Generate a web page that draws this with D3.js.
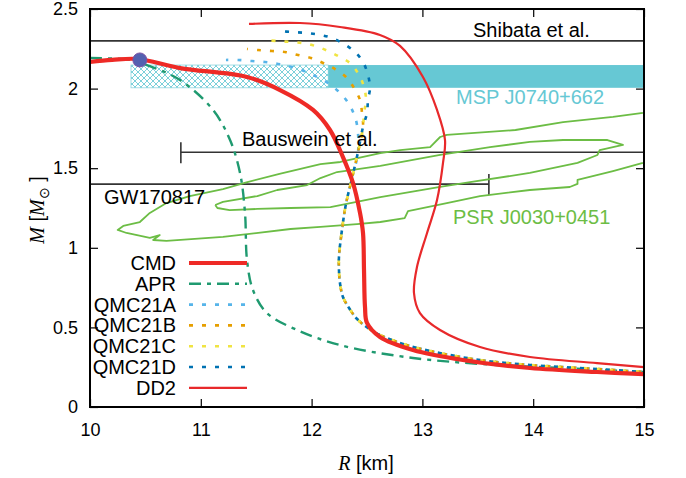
<!DOCTYPE html>
<html>
<head>
<meta charset="utf-8">
<script src="https://d3js.org/d3.v7.min.js"></script>
<style>
  body { margin: 0; background: #fff; }
  svg text { font-family: "Liberation Sans", Arial, sans-serif; }
</style>
</head>
<body>
<svg id="chart" width="686" height="478"></svg>
<script>
// tick values
const xTicks = [10, 11, 12, 13, 14, 15];
const yTicks = [0, 0.5, 1, 1.5, 2, 2.5];

// mass-radius curves [R km, M Msun]
const cmd = [[10.0,2.167],[10.2,2.18],[10.433,2.186],[10.812,2.129],[11.417,2.073],[11.715,1.991],[12.013,1.866],
  [12.166,1.74],[12.283,1.57],[12.374,1.407],[12.437,1.219],[12.464,1.093],[12.473,0.861],[12.482,0.628],
  [12.5,0.528],[12.617,0.44],[12.915,0.358],[13.366,0.295],[13.971,0.245],[14.576,0.22],[15.0,0.207]];
const dd2 = [[11.435,2.406],[11.895,2.412],[12.256,2.387],[12.617,2.337],[12.798,2.268],[13.005,2.073],
  [13.132,1.866],[13.204,1.677],[13.186,1.533],[13.132,1.3],[13.042,1.093],[12.951,0.879],[12.924,0.716],
  [12.978,0.59],[13.159,0.484],[13.52,0.377],[13.971,0.314],[14.576,0.276],[15.0,0.251]];
const apr = [[10.0,2.192],[10.361,2.18],[10.514,2.148],[10.812,2.054],[11.11,1.866],[11.264,1.677],
  [11.354,1.47],[11.399,1.219],[11.417,0.923],[11.471,0.735],[11.597,0.59],[11.868,0.484],[12.256,0.389],
  [12.915,0.308],[13.673,0.264],[14.269,0.245],[15.0,0.22]];
const qmcTail = [[12.464,1.759],[12.419,1.602],[12.365,1.438],[12.31,1.275],[12.274,1.112],[12.247,0.942],
  [12.247,0.861],[12.256,0.779],[12.283,0.691],[12.338,0.622],[12.41,0.553],[12.509,0.496],[12.617,0.452],
  [12.726,0.421],[12.825,0.396],[13.069,0.352],[13.52,0.295],[13.971,0.264],[14.576,0.239],[15.0,0.22]];
const qmcAHead = [[11.227,2.18],[11.336,2.18],[11.462,2.173],[11.579,2.167],[11.697,2.155],[11.823,2.136],
  [11.931,2.111],[12.049,2.073],[12.148,2.035],[12.238,1.985],[12.319,1.922],[12.374,1.853],[12.41,1.771]];
const qmcBHead = [[11.417,2.249],[11.516,2.242],[11.643,2.236],[11.76,2.23],[11.877,2.211],[11.995,2.192],
  [12.103,2.161],[12.211,2.123],[12.31,2.073],[12.383,2.004],[12.437,1.928],[12.455,1.847]];
const qmcCHead = [[11.561,2.305],[11.688,2.299],[11.805,2.293],[11.922,2.286],[12.031,2.268],[12.148,2.236],
  [12.256,2.198],[12.356,2.155],[12.428,2.085],[12.473,2.01],[12.491,1.928],[12.473,1.847]];
const qmcDHead = [[11.697,2.362],[11.832,2.355],[11.958,2.349],[12.076,2.337],[12.184,2.318],[12.292,2.28],
  [12.392,2.23],[12.464,2.167],[12.509,2.085],[12.527,2.004],[12.509,1.928],[12.5,1.847]];

// PSR J0030+0451 contours
const psrOuter = [[14.99,1.847],[14.72,1.822],[14.27,1.79],[13.84,1.74],[13.22,1.709],[13.16,1.696],[13.07,1.633],
  [12.8,1.614],[12.62,1.595],[12.26,1.539],[12.08,1.526],[11.71,1.464],[11.42,1.413],[11.2,1.369],[10.9,1.325],
  [10.69,1.281],[10.54,1.219],[10.45,1.162],[10.3,1.137],[10.25,1.112],[10.33,1.093],[10.54,1.062],[10.63,1.08],
  [10.57,1.049],[10.69,1.043],[11.2,1.068],[11.81,1.118],[12.08,1.131],[12.41,1.149],[12.62,1.162],[12.84,1.187],
  [12.87,1.231],[13.22,1.281],[13.52,1.325],[13.97,1.363],[14.33,1.382],[14.4,1.401],[14.4,1.426],[14.72,1.482],
  [14.99,1.533]];
const psrInner = [[11.13,1.269],[11.2,1.288],[11.51,1.325],[11.69,1.363],[11.96,1.394],[12.08,1.438],[12.23,1.476],
  [12.62,1.514],[13.16,1.583],[13.61,1.633],[13.97,1.665],[14.27,1.677],[14.67,1.677],[14.81,1.646],[14.6,1.614],
  [14.58,1.583],[14.4,1.533],[13.97,1.47],[13.43,1.413],[13.16,1.382],[12.62,1.319],[12.17,1.256],[11.81,1.25],
  [11.51,1.244],[11.26,1.237],[11.15,1.25],[11.13,1.269]];

// observational constraints
const mspMass = [2.005, 2.148];
const mspHatchR = [10.37, 12.15];
const shibataM = 2.3;
const bausweinM = 1.6, bausweinR = 10.82;
const gwM = 1.4, gwR = 13.6;
const maxPoint = [10.45, 2.18];

const legendNames = ["CMD", "APR", "QMC21A", "QMC21B", "QMC21C", "QMC21D", "DD2"];

const svg = d3.select('#chart');
const margin = { top: 9, right: 42, bottom: 71, left: 90 };
const width = +svg.attr('width') - margin.left - margin.right;
const height = +svg.attr('height') - margin.top - margin.bottom;

const x = d3.scaleLinear().domain([10, 15]).range([margin.left, margin.left + width]);
const y = d3.scaleLinear().domain([0, 2.5]).range([margin.top + height, margin.top]);

const defs = svg.append('defs');
defs.append('clipPath').attr('id', 'plotclip')
  .append('rect').attr('x', x(10)).attr('y', y(2.5)).attr('width', width).attr('height', height);
const pat = defs.append('pattern').attr('id', 'hatch').attr('patternUnits', 'userSpaceOnUse')
  .attr('width', 6).attr('height', 6);
pat.append('path').attr('d', 'M0,0L6,6M6,0L0,6M-1,5L1,7M5,-1L7,1M-1,1L1,-1M5,7L7,5')
  .attr('stroke', '#6ccbd6').attr('stroke-width', 0.9).attr('fill', 'none');

const plot = svg.append('g').attr('clip-path', 'url(#plotclip)');

// MSP band
plot.append('rect')
  .attr('x', x(mspHatchR[0])).attr('y', y(mspMass[1]))
  .attr('width', x(mspHatchR[1]) - x(mspHatchR[0])).attr('height', y(mspMass[0]) - y(mspMass[1]))
  .attr('fill', 'url(#hatch)').attr('stroke', '#8fd6df').attr('stroke-width', 0.8);
plot.append('rect')
  .attr('x', x(mspHatchR[1])).attr('y', y(mspMass[1]))
  .attr('width', x(15) - x(mspHatchR[1])).attr('height', y(mspMass[0]) - y(mspMass[1]))
  .attr('fill', '#66c8d4');

// reference lines
const refColor = '#333';
plot.append('line').attr('x1', x(10)).attr('x2', x(15)).attr('y1', y(shibataM)).attr('y2', y(shibataM))
  .attr('stroke', refColor).attr('stroke-width', 1.6);
plot.append('line').attr('x1', x(bausweinR)).attr('x2', x(15)).attr('y1', y(bausweinM)).attr('y2', y(bausweinM))
  .attr('stroke', refColor).attr('stroke-width', 1.6);
plot.append('line').attr('x1', x(bausweinR)).attr('x2', x(bausweinR)).attr('y1', y(bausweinM) - 10).attr('y2', y(bausweinM) + 11)
  .attr('stroke', refColor).attr('stroke-width', 1.6);
plot.append('line').attr('x1', x(10)).attr('x2', x(gwR)).attr('y1', y(gwM)).attr('y2', y(gwM))
  .attr('stroke', refColor).attr('stroke-width', 1.6);
plot.append('line').attr('x1', x(gwR)).attr('x2', x(gwR)).attr('y1', y(gwM) - 10).attr('y2', y(gwM) + 11)
  .attr('stroke', refColor).attr('stroke-width', 1.6);

// PSR contours
const linePlain = d3.line().x(d => x(d[0])).y(d => y(d[1]));
const lineSmooth = d3.line().x(d => x(d[0])).y(d => y(d[1])).curve(d3.curveCatmullRom.alpha(0.5));
const green = '#6cbd45';
[psrOuter, psrInner].forEach(c => {
  plot.append('path').attr('d', linePlain(c)).attr('fill', 'none')
    .attr('stroke', green).attr('stroke-width', 1.8).attr('stroke-linejoin', 'round');
});

// EOS curves
const series = [
  { name: 'APR', data: apr, color: '#1f9a70', w: 2.4, dash: '12,6,4,6' },
  { name: 'QMC21A', data: qmcAHead.concat(qmcTail.slice(1)), color: '#56b4e9', w: 2.6, dash: '4,9' },
  { name: 'QMC21B', data: qmcBHead.concat(qmcTail), color: '#e69f00', w: 2.6, dash: '4,9' },
  { name: 'QMC21C', data: qmcCHead.concat(qmcTail), color: '#f0e442', w: 2.6, dash: '4,9' },
  { name: 'QMC21D', data: qmcDHead.concat(qmcTail), color: '#0072b2', w: 2.6, dash: '4,9' },
  { name: 'DD2', data: dd2, color: '#e8292b', w: 2.2, dash: null },
  { name: 'CMD', data: cmd, color: '#ee2a26', w: 4.2, dash: null }
];
series.forEach((s, i) => {
  const p = plot.append('path').attr('d', lineSmooth(s.data)).attr('fill', 'none')
    .attr('stroke', s.color).attr('stroke-width', s.w);
  if (s.dash) p.attr('stroke-dasharray', s.dash).attr('stroke-dashoffset', s.name.startsWith('QMC') ? i * 1.5 : 0);
});

// maximum mass point
plot.append('circle').attr('cx', x(maxPoint[0])).attr('cy', y(maxPoint[1])).attr('r', 7)
  .attr('fill', '#5361b0').attr('stroke', '#7b52a6').attr('stroke-width', 1);

// annotations
const ann = svg.append('g').style('font-size', '20px');
ann.append('text').attr('x', 473).attr('y', 37).text('Shibata et al.');
ann.append('text').attr('x', 456).attr('y', 104).attr('fill', '#66c8d4').text('MSP J0740+662');
ann.append('text').attr('x', 242).attr('y', 146).text('Bauswein et al.');
ann.append('text').attr('x', 104).attr('y', 204).text('GW170817');
ann.append('text').attr('x', 453).attr('y', 224).attr('fill', green).text('PSR J0030+0451');

// legend
const legend = svg.append('g').style('font-size', '20px');
legendNames.forEach((n, i) => {
  const s = series.find(d => d.name === n);
  const ly = 263 + i * 20.8;
  legend.append('text').attr('x', 176).attr('y', ly).attr('dy', '0.35em').attr('text-anchor', 'end').text(n);
  const l = legend.append('line').attr('x1', 189).attr('x2', 247).attr('y1', ly).attr('y2', ly)
    .attr('stroke', s.color).attr('stroke-width', s.w);
  if (s.dash) l.attr('stroke-dasharray', s.dash);
});

// axes with inward ticks on all sides
const tickLen = 8;
const fmt = d => String(d);
svg.append('g').attr('transform', `translate(0,${y(0)})`)
  .call(d3.axisBottom(x).tickValues(xTicks).tickFormat(fmt).tickSizeInner(-tickLen).tickSizeOuter(0).tickPadding(16))
  .call(g => g.select('.domain').remove());
svg.append('g').attr('transform', `translate(0,${y(2.5)})`)
  .call(d3.axisTop(x).tickValues(xTicks).tickSizeInner(-tickLen).tickSizeOuter(0).tickFormat(''))
  .call(g => g.select('.domain').remove());
svg.append('g').attr('transform', `translate(${x(10)},0)`)
  .call(d3.axisLeft(y).tickValues(yTicks).tickFormat(fmt).tickSizeInner(-tickLen).tickSizeOuter(0).tickPadding(12))
  .call(g => g.select('.domain').remove());
svg.append('g').attr('transform', `translate(${x(15)},0)`)
  .call(d3.axisRight(y).tickValues(yTicks).tickSizeInner(-tickLen).tickSizeOuter(0).tickFormat(''))
  .call(g => g.select('.domain').remove());
svg.selectAll('.tick line').attr('stroke', '#000').attr('stroke-width', 1.2);
svg.selectAll('.tick text').style('font-size', '18px').style('font-family', '"Liberation Sans", Arial, sans-serif');

svg.append('rect').attr('x', x(10)).attr('y', y(2.5)).attr('width', width).attr('height', height)
  .attr('fill', 'none').attr('stroke', '#000').attr('stroke-width', 2);

// axis titles
const xt = svg.append('text').attr('x', 366).attr('y', 470).attr('text-anchor', 'middle').style('font-size', '20px');
xt.append('tspan').style('font-family', '"Liberation Serif", serif').style('font-style', 'italic').text('R');
xt.append('tspan').text(' [km]');
const yt = svg.append('text').attr('transform', 'translate(44,210) rotate(-90)').attr('text-anchor', 'middle')
  .style('font-size', '20px');
yt.append('tspan').style('font-family', '"Liberation Serif", serif').style('font-style', 'italic').text('M');
yt.append('tspan').text(' [');
yt.append('tspan').style('font-family', '"Liberation Serif", serif').style('font-style', 'italic').text('M');
yt.append('tspan').attr('dy', 5).style('font-size', '14px').text('\u2299');
yt.append('tspan').attr('dy', -5).text(' ]');
</script>
</body>
</html>
